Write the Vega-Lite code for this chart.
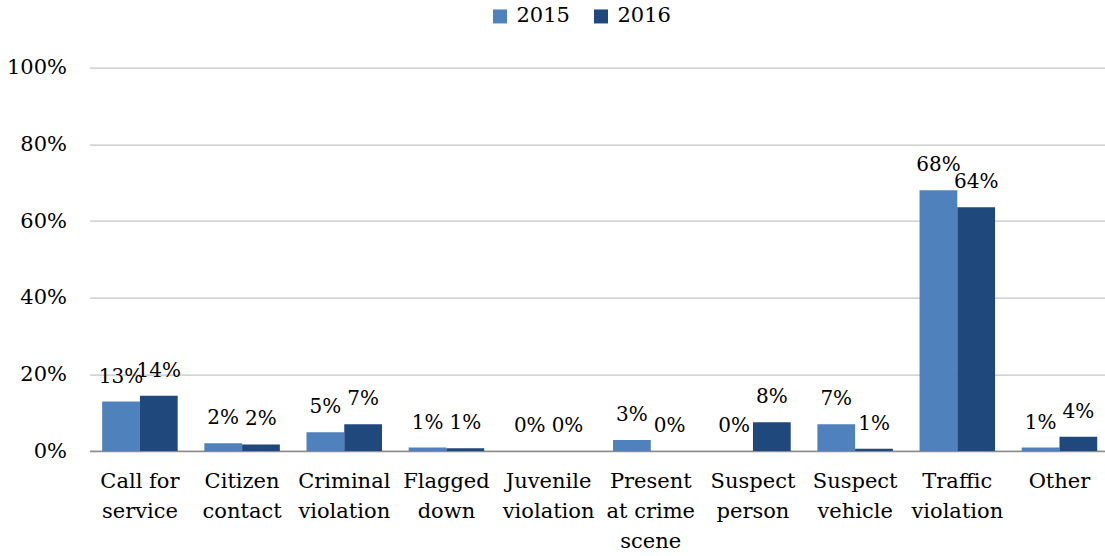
{
  "$schema": "https://vega.github.io/schema/vega-lite/v6.json",
  "width": 1015.5,
  "height": 383.3,
  "autosize": {"type": "none"},
  "padding": {"left": 89.5, "top": 67.7, "right": 0, "bottom": 105},
  "background": "#ffffff",
  "config": {
    "view": {"stroke": null},
    "font": "DejaVu Serif",
    "axis": {"labelFont": "DejaVu Serif", "labelColor": "#000000", "labelFontSize": 21},
    "legend": {"labelFont": "DejaVu Serif", "labelColor": "#000000", "labelFontSize": 21}
  },
  "data": {
    "values": [
      {"category": "Call for\nservice", "year": "2015", "share": 0.129},
      {"category": "Call for\nservice", "year": "2016", "share": 0.144},
      {"category": "Citizen\ncontact", "year": "2015", "share": 0.020},
      {"category": "Citizen\ncontact", "year": "2016", "share": 0.017},
      {"category": "Criminal\nviolation", "year": "2015", "share": 0.049},
      {"category": "Criminal\nviolation", "year": "2016", "share": 0.070},
      {"category": "Flagged\ndown", "year": "2015", "share": 0.009},
      {"category": "Flagged\ndown", "year": "2016", "share": 0.007},
      {"category": "Juvenile\nviolation", "year": "2015", "share": 0.0},
      {"category": "Juvenile\nviolation", "year": "2016", "share": 0.0},
      {"category": "Present\nat crime\nscene", "year": "2015", "share": 0.029},
      {"category": "Present\nat crime\nscene", "year": "2016", "share": 0.0},
      {"category": "Suspect\nperson", "year": "2015", "share": 0.0},
      {"category": "Suspect\nperson", "year": "2016", "share": 0.075},
      {"category": "Suspect\nvehicle", "year": "2015", "share": 0.070},
      {"category": "Suspect\nvehicle", "year": "2016", "share": 0.006},
      {"category": "Traffic\nviolation", "year": "2015", "share": 0.680},
      {"category": "Traffic\nviolation", "year": "2016", "share": 0.636},
      {"category": "Other", "year": "2015", "share": 0.009},
      {"category": "Other", "year": "2016", "share": 0.037}
    ]
  },
  "encoding": {
    "x": {
      "field": "category",
      "type": "nominal",
      "sort": null,
      "scale": {"paddingInner": 0.261, "paddingOuter": 0.1, "align": 0.62},
      "axis": {
        "title": null,
        "labelAngle": 0,
        "labelExpr": "split(datum.label, '\\n')",
        "labelLineHeight": 30,
        "labelPadding": 19,
        "labelBaseline": "top",
        "ticks": false,
        "domainColor": "#8C8C8C",
        "domainWidth": 1.5,
        "grid": false
      }
    },
    "xOffset": {
      "field": "year",
      "type": "nominal",
      "scale": {"paddingInner": 0, "paddingOuter": 0}
    },
    "y": {
      "field": "share",
      "type": "quantitative",
      "scale": {"domain": [0, 1], "nice": false},
      "axis": {
        "title": null,
        "format": ".0%",
        "values": [0, 0.2, 0.4, 0.6, 0.8, 1],
        "domain": false,
        "ticks": false,
        "labelPadding": 23,
        "gridColor": "#C6C6C6",
        "gridWidth": 1.3
      }
    }
  },
  "layer": [
    {
      "mark": {"type": "bar"},
      "encoding": {
        "color": {
          "field": "year",
          "type": "nominal",
          "scale": {"domain": ["2015", "2016"], "range": ["#4F81BD", "#1F497D"]},
          "legend": {
            "title": null,
            "orient": "none",
            "direction": "horizontal",
            "legendX": 400,
            "legendY": -62,
            "symbolType": "square",
            "symbolSize": 196,
            "symbolStrokeWidth": 0,
            "labelOffset": 6,
            "columnPadding": 20
          }
        }
      }
    },
    {
      "mark": {"type": "text", "baseline": "alphabetic", "dy": -19, "fontSize": 20, "color": "#000000", "font": "DejaVu Serif"},
      "encoding": {
        "text": {"field": "share", "type": "quantitative", "format": ".0%"}
      }
    }
  ]
}
